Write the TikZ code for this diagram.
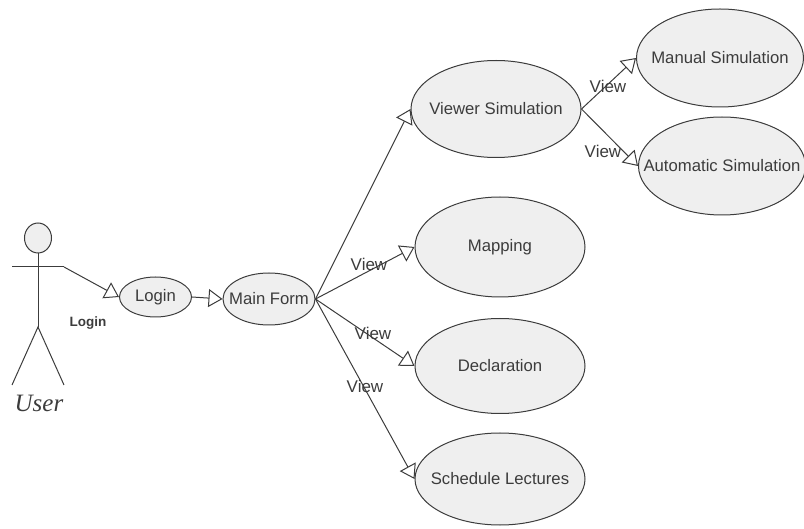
\documentclass[tikz,border=0pt]{standalone}
\usepackage{fontspec}
\setmainfont{Liberation Sans}
\newfontfamily\userfont{Liberation Serif}
\usetikzlibrary{arrows.meta,shapes.geometric}
\newcommand{\Lbl}[1]{\makebox[0pt]{#1}}
\definecolor{Ink}{HTML}{3C3C3C}
\definecolor{Shade}{HTML}{EFEFEF}
\tikzset{UseCase/.style={
    ellipse,
    inner sep=0pt,
    draw=Ink,
    fill=Shade,
    text=Ink,
    font=\fontsize{16.7}{18}\selectfont,
    }
}
\tikzset{Big/.style={UseCase,minimum width=170pt,minimum height=97pt}}
\tikzset{Gen/.style={draw=Ink,-{Triangle[open,fill=white,length=14pt,width=18pt]}}}
\tikzset{Stick/.style={draw=Ink}}
\tikzset{Tag/.style={text=Ink,inner sep=0pt,font=\fontsize{17}{18}\selectfont}}
\begin{document}
\begin{tikzpicture}[x=1pt,y=-1pt,line width=1pt]
\useasboundingbox (0,0) rectangle (804,529);
% use cases
\node [UseCase,minimum width=72pt,minimum height=40pt] (Login) at (155.5,297) {\Lbl{Login}};
\node [UseCase,minimum width=92pt,minimum height=52pt] (Main) at (269,299) {\Lbl{Main Form}};
\node [Big] (Viewer) at (496,109) {\Lbl{Viewer Simulation}};
\node [Big,minimum width=167pt,minimum height=98pt] (Manual) at (720,58) {\Lbl{Manual Simulation}};
\node [Big,minimum width=167pt,minimum height=98pt] (Automatic) at (722,166) {\Lbl{Automatic Simulation}};
\node [Big,minimum height=100pt] (Mapping) at (500,247) {\Lbl{Mapping}};
\node [Big,minimum height=95pt] (Declaration) at (500,366) {\Lbl{Declaration}};
\node [Big,minimum height=92pt] (Schedule) at (500,479) {\Lbl{Schedule Lectures}};
% actor
\node [ellipse,draw=Ink,fill=Shade,inner sep=0pt,minimum width=27pt,minimum height=30pt] (Head) at (38,238) {};
\coordinate (Hip) at (38,327);
\coordinate (HandL) at (12,267);
\coordinate (HandR) at (64,267);
\coordinate (FootL) at (12,385);
\coordinate (FootR) at (64,385);
\draw [Stick] (Head) -- (Hip);
\draw [Stick] (HandL) -- (HandR);
\draw [Stick] (FootL) -- (Hip) -- (FootR);
\node [inner sep=0pt,text=Ink,font=\userfont\itshape\fontsize{25}{27}\selectfont] (User) at (39,403) {User};
\node [inner sep=0pt,text=Ink,font=\bfseries\fontsize{13.5}{15}\selectfont] (LoginTag) at (88,323) {Login};
% connectors
\draw [Gen] (HandR) -- (Login.west);
\draw [Gen] (Login.east) -- (Main.west);
\draw [Gen] (Main.east) -- (Viewer.west);
\draw [Gen] (Main.east) -- (Mapping.west);
\draw [Gen] (Main.east) -- (Declaration.west);
\draw [Gen] (Main.east) -- (Schedule.west);
\draw [Gen] (Viewer.east) -- (Manual.west);
\draw [Gen] (Viewer.east) -- (Automatic.west);
% labels
\node [Tag] (ViewA) at (369,264) {View};
\node [Tag] (ViewB) at (373,333) {View};
\node [Tag] (ViewC) at (365,386) {View};
\node [Tag] (ViewD) at (608,86) {View};
\node [Tag] (ViewE) at (603,151) {View};
\end{tikzpicture}
\end{document}
